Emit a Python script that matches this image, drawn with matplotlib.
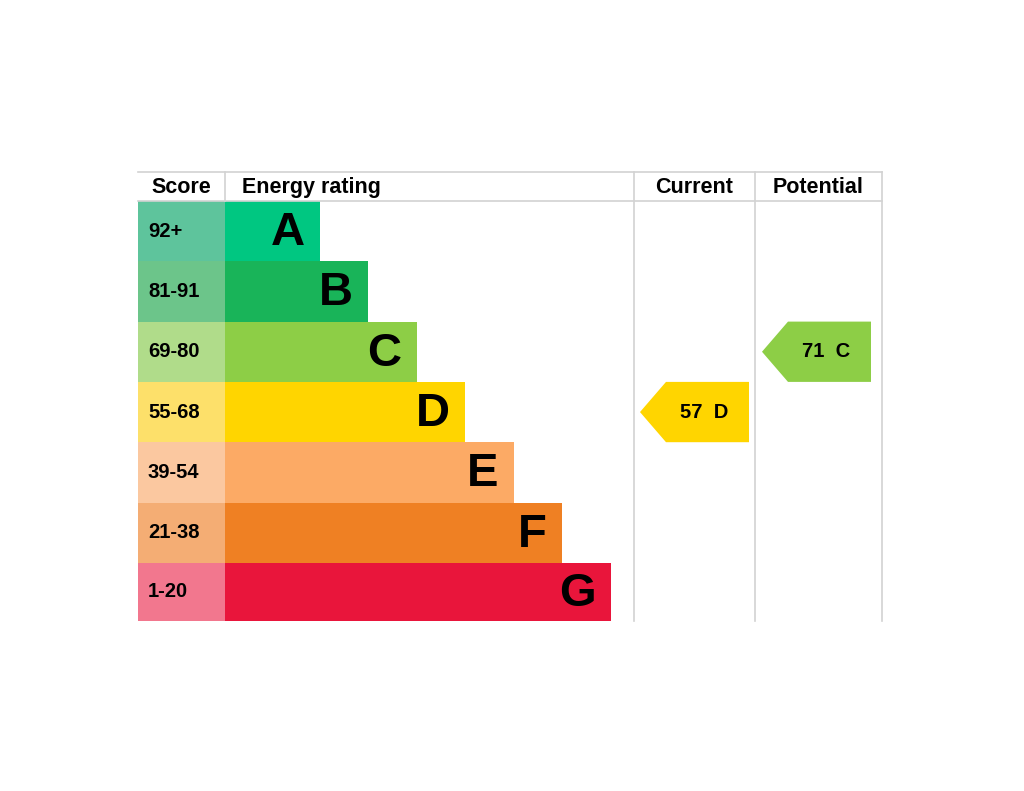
import matplotlib.pyplot as plt
from matplotlib.patches import Rectangle, Polygon

# rating bands, top to bottom
bands = ["A", "B", "C", "D", "E", "F", "G"]
score_ranges = ["92+", "81-91", "69-80", "55-68", "39-54", "21-38", "1-20"]
band_low = [92, 81, 69, 55, 39, 21, 1]
bar_colors = ["#00c781", "#19b459", "#8dce46", "#ffd500", "#fcaa65", "#ef8023", "#e9153b"]
score_colors = ["#5ec49c", "#6cc58a", "#b0dc8a", "#fde06a", "#fbc8a0", "#f4ad74", "#f2778e"]
bar_steps = [1, 2, 3, 4, 5, 6, 7]   # relative bar length per band

current_score = 57
potential_score = 71

plt.rcParams['font.family'] = ['Liberation Sans', 'DejaVu Sans']

fig = plt.figure(figsize=(10.24, 7.91), dpi=100)
ax = fig.add_axes([0, 0, 1, 1])
ax.set_xlim(0, 1024)
ax.set_ylim(791, 0)
ax.axis("off")

# layout (pixels)
left, score_right = 138, 225
col_cur, col_pot, right = 634, 755, 882
top, head_bot = 172, 201
row_h = 60.3
step = 48.5
grid_c = "#d2d2d2"


def band_of(score):
    for i, lo in enumerate(band_low):
        if score >= lo:
            return i
    return len(bands) - 1


bottom = head_bot + row_h * len(bands) - 2

# grid lines
ax.plot([left, right], [top, top], color=grid_c, lw=1.2)
ax.plot([left, right], [head_bot, head_bot], color=grid_c, lw=1.2)
ax.plot([score_right, score_right], [top, head_bot], color=grid_c, lw=1.2)
for x in [col_cur, col_pot, right]:
    ax.plot([x, x], [top, bottom], color=grid_c, lw=1.2)

# headers
hy = (top + head_bot) / 2 + 1
ax.text((left + score_right) / 2, hy, "Score", ha="center", va="center", fontsize=15.5, fontweight="bold")
ax.text(242, hy, "Energy rating", ha="left", va="center", fontsize=15.5, fontweight="bold")
ax.text((col_cur + col_pot) / 2, hy, "Current", ha="center", va="center", fontsize=15.5, fontweight="bold")
ax.text((col_pot + right) / 2, hy, "Potential", ha="center", va="center", fontsize=15.5, fontweight="bold")

# bands
for i, b in enumerate(bands):
    y = head_bot + i * row_h
    h = row_h if i < len(bands) - 1 else row_h - 2
    ax.add_patch(Rectangle((left, y), score_right - left, h, color=score_colors[i], lw=0))
    x_end = score_right + 46 + step * bar_steps[i]
    ax.add_patch(Rectangle((score_right, y), x_end - score_right, h, color=bar_colors[i], lw=0))
    ax.text(148, y + h / 2, score_ranges[i], ha="left", va="center", fontsize=14.5, fontweight="bold")
    ax.text(x_end - 15, y + h / 2 + 2, b, ha="right", va="center", fontsize=34, fontweight="bold")


def arrow(x0, x1, score):
    i = band_of(score)
    y = head_bot + i * row_h
    h = row_h
    tip = 26
    pts = [(x0, y + h / 2), (x0 + tip, y), (x1, y), (x1, y + h), (x0 + tip, y + h)]
    ax.add_patch(Polygon(pts, closed=True, color=bar_colors[i], lw=0))
    ax.text((x0 + tip + x1) / 2 - 3, y + h / 2, f"{score}  {bands[i]}", ha="center", va="center",
            fontsize=14.5, fontweight="bold")


arrow(640, 749, current_score)
arrow(762, 871, potential_score)

fig.savefig("out.png", dpi=100)
